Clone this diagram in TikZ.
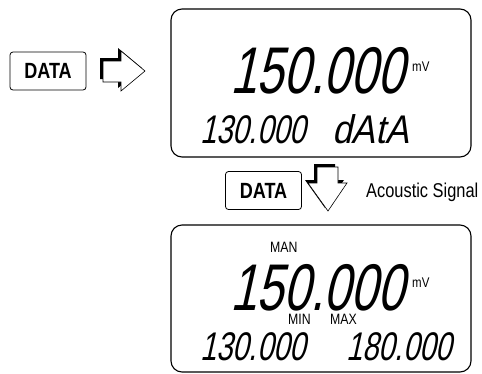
\documentclass[tikz,border=0pt]{standalone}
\usepackage{fontspec}
\newfontfamily\lcdfont[FakeSlant=0.22,FakeStretch=0.73]{Liberation Sans}
\newfontfamily\lcdwide[FakeSlant=0.22,FakeStretch=0.88]{Liberation Sans}
\newfontfamily\labelfont[FakeStretch=0.82]{Liberation Sans}

\begin{document}
\begin{tikzpicture}[x=1pt,y=-1pt,
	lcd/.style={draw,line width=1.1pt,rounded corners=11pt,minimum width=300pt,minimum height=148pt,inner sep=0pt},
	button/.style={draw,line width=0.8pt,rounded corners=3pt,minimum width=76pt,minimum height=38pt,inner sep=0pt,font=\labelfont\bfseries\fontsize{22}{22}\selectfont},
	seg/.style={anchor=base west,inner sep=0pt,text height=29pt,text depth=0pt,font=\lcdfont\fontsize{40}{40}\selectfont},
	bigseg/.style={seg,text height=47pt,font=\lcdfont\fontsize{66}{66}\selectfont},
	tag/.style={anchor=base west,inner sep=0pt,text height=10pt,text depth=0pt,font=\labelfont\fontsize{15}{15}\selectfont},
	unit/.style={tag,font=\labelfont\fontsize{14}{14}\selectfont},
	hollow/.style={fill=white,draw=black,line width=0.6pt,line join=miter,preaction={fill=black,transform canvas={shift={(-3pt,3pt)}}}}]
	\useasboundingbox (0,0) rectangle (482,373);
	% upper display
	\node[lcd] (lcdtop) at (321,83) {};
	\node[bigseg] (valtop) at (230,93) {150.000};
	\node[unit] (unittop) at (412,71) {mV};
	\node[seg] (memtop) at (200,143) {130.000};
	\node[seg,font=\lcdwide\fontsize{40}{40}\selectfont] (datatxt) at (332,143) {dAtA};
	\node[button] (keyleft) at (48,71) {DATA};
	\draw[hollow] (103,61) -- (121,61) -- (121,51) -- (145,71) -- (121,91) -- (121,82) -- (103,82) -- cycle;
	% key press in between
	\node[button] (keymid) at (263.5,190.5) {DATA};
	\draw[hollow] (317,167) -- (338,167) -- (338,183) -- (347,183) -- (328,211) -- (308,183) -- (317,183) -- cycle;
	\node[tag,text height=13pt,font=\labelfont\fontsize{20}{20}\selectfont] (signal) at (366,197) {Acoustic Signal};
	% lower display
	\node[lcd,minimum height=147pt] (lcdbot) at (321,298.5) {};
	\node[tag] (man) at (270,252) {MAN};
	\node[bigseg] (valbot) at (230,310) {150.000};
	\node[unit] (unitbot) at (412,287) {mV};
	\node[tag] (min) at (288,324) {MIN};
	\node[tag] (max) at (330,324) {MAX};
	\node[seg] (minval) at (200,360) {130.000};
	\node[seg] (maxval) at (346,360) {180.000};
\end{tikzpicture}
\end{document}
